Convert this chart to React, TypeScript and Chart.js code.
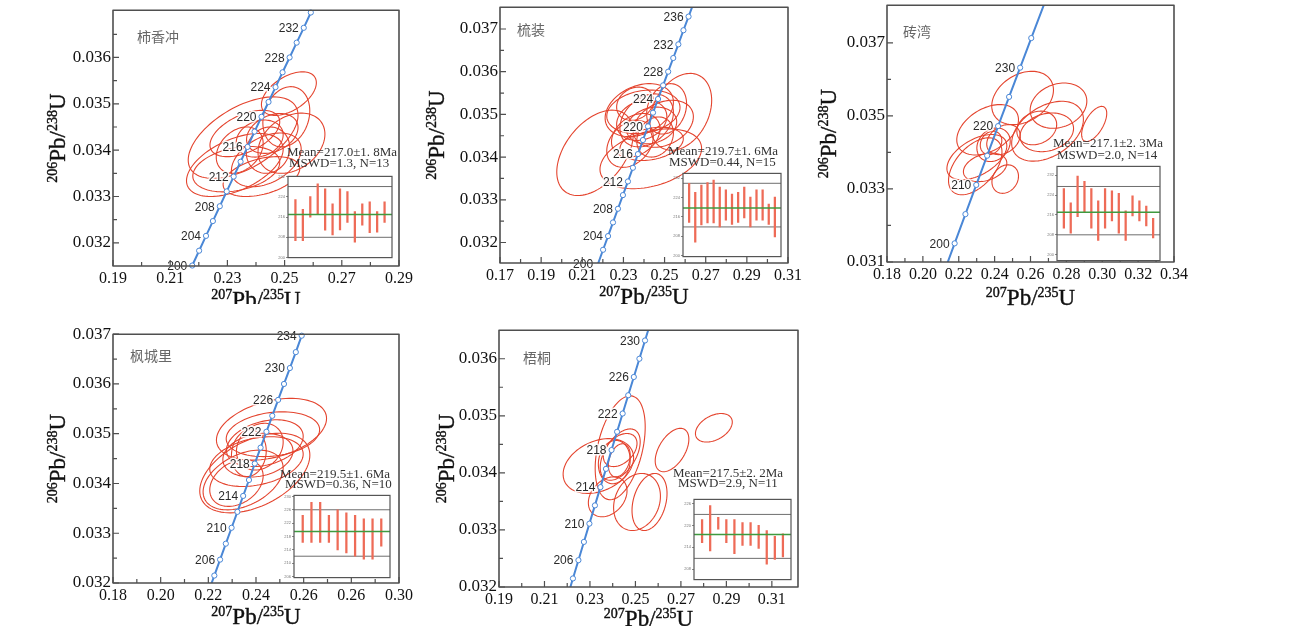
import { useEffect, useRef } from "react";
import { Chart, registerables } from "chart.js";

Chart.register(...registerables);

const RED = "#e4442e";
const BAR_RED = "#ee6b57";
const BLUE = "#4a87d6";
const FRAME = "#4f4f4f";
const SERIF = '"Liberation Serif", "Times New Roman", serif';
const SANS = '"Liberation Sans", Arial, sans-serif';
const CJK = '"Noto Sans CJK SC", sans-serif';

// Concordia reference points: age (Ma), 207Pb/235U, 206Pb/238U
const concAges = [195, 200, 202, 204, 205, 206, 208, 210, 212, 214, 215, 216, 218, 220, 222, 224, 225, 226, 228, 230, 232, 234, 235, 236, 238, 240, 245];
const concX = [0.21173, 0.21771, 0.22011, 0.22252, 0.22372, 0.22493, 0.22734, 0.22976, 0.23219, 0.23461, 0.23583, 0.23705, 0.23949, 0.24193, 0.24438, 0.24683, 0.24806, 0.24929, 0.25175, 0.25422, 0.2567, 0.25917, 0.26042, 0.26166, 0.26414, 0.26664, 0.27289];
const concY = [0.03071, 0.03151, 0.03183, 0.03215, 0.03231, 0.03247, 0.03279, 0.03311, 0.03343, 0.03375, 0.03391, 0.03407, 0.0344, 0.03472, 0.03504, 0.03536, 0.03552, 0.03568, 0.036, 0.03632, 0.03664, 0.03697, 0.03713, 0.03729, 0.03761, 0.03793, 0.03874];

// ---------- 柿香冲 ----------
const name1 = "柿香冲";
const xTicks1 = [0.19, 0.21, 0.23, 0.25, 0.27, 0.29];
const xLabels1 = ["0.19", "0.21", "0.23", "0.25", "0.27", "0.29"];
const xMinor1 = [0.2, 0.22, 0.24, 0.26, 0.28];
const yTicks1 = [0.032, 0.033, 0.034, 0.035, 0.036];
const yLabels1 = ["0.032", "0.033", "0.034", "0.035", "0.036"];
const yMinor1 = [0.0325, 0.0335, 0.0345, 0.0355, 0.0365];
const ages1 = [200, 202, 204, 206, 208, 210, 212, 214, 216, 218, 220, 222, 224, 226, 228, 230, 232, 234, 236];
const ageLabels1 = [200, 204, 208, 212, 216, 220, 224, 228, 232];
// error ellipses: [207/235, 206/238, ±x, ±y, rho]
const ellipses1 = [
  [0.2515, 0.03522, 0.0096, 0.00047, 0.5],
  [0.2355, 0.03427, 0.0192, 0.00088, 0.55],
  [0.2524, 0.03415, 0.0117, 0.00065, 0.3],
  [0.2326, 0.03368, 0.0169, 0.00068, 0.5],
  [0.2331, 0.03359, 0.0152, 0.00049, 0.3],
  [0.2419, 0.03343, 0.0134, 0.00043, 0.4],
  [0.2413, 0.03425, 0.0082, 0.0004, 0.2],
  [0.2442, 0.034, 0.0076, 0.0005, 0.1],
  [0.2506, 0.03472, 0.0082, 0.00065, 0.2],
  [0.2361, 0.03436, 0.0122, 0.0005, 0.5],
  [0.2436, 0.03379, 0.0122, 0.00058, 0.4],
  [0.2457, 0.03436, 0.009, 0.00043, 0.3],
  [0.2343, 0.034, 0.0082, 0.0005, 0.3],
];
const spots1 = [[206.7, 222.9], [206.7, 219.0], [215.9, 224.0], [217.1, 229.1], [210.8, 227.1], [208.9, 221.2], [210.9, 227.1], [213.9, 226.0], [206.1, 218.1], [212.8, 221.2], [209.8, 222.0], [210.0, 218.1], [213.9, 222.0]];
const spotTicks1 = [200, 208, 216, 224, 232];
const spotRef1 = [208, 228];
const mean1 = 217.0;

// ---------- 梳装 ----------
const name2 = "梳装";
const xTicks2 = [0.17, 0.19, 0.21, 0.23, 0.25, 0.27, 0.29, 0.31];
const xLabels2 = ["0.17", "0.19", "0.21", "0.23", "0.25", "0.27", "0.29", "0.31"];
const xMinor2 = [0.18, 0.2, 0.22, 0.24, 0.26, 0.28, 0.3];
const yTicks2 = [0.032, 0.033, 0.034, 0.035, 0.036, 0.037];
const yLabels2 = ["0.032", "0.033", "0.034", "0.035", "0.036", "0.037"];
const yMinor2 = [0.0325, 0.0335, 0.0345, 0.0355, 0.0365];
const ages2 = [200, 202, 204, 206, 208, 210, 212, 214, 216, 218, 220, 222, 224, 226, 228, 230, 232, 234, 236, 238];
const ageLabels2 = [200, 204, 208, 212, 216, 220, 224, 228, 232, 236];
const ellipses2 = [
  [0.2162, 0.0341, 0.0186, 0.001, 0.45],
  [0.2433, 0.03396, 0.0247, 0.0007, 0.35],
  [0.2579, 0.03506, 0.015, 0.0009, 0.3],
  [0.2377, 0.0351, 0.0166, 0.00062, 0.3],
  [0.2397, 0.03506, 0.0178, 0.00051, 0.2],
  [0.2389, 0.03486, 0.0122, 0.00047, 0.2],
  [0.2413, 0.03486, 0.013, 0.00062, 0.3],
  [0.236, 0.03451, 0.0118, 0.00051, 0.3],
  [0.2437, 0.03474, 0.0122, 0.00043, 0.2],
  [0.2494, 0.03478, 0.0146, 0.00055, 0.3],
  [0.2332, 0.03431, 0.0113, 0.00055, 0.3],
  [0.2437, 0.03431, 0.0154, 0.00039, 0.3],
  [0.251, 0.03513, 0.0097, 0.00059, 0.2],
  [0.2356, 0.03525, 0.0089, 0.00039, 0.2],
  [0.2454, 0.03447, 0.0089, 0.00047, 0.2],
];
const spots2 = [[213.7, 229.9], [205.5, 226.1], [212.6, 229.2], [213.5, 230.2], [213.5, 231.2], [211.8, 228.3], [214.6, 227.2], [212.8, 225.4], [213.7, 226.2], [215.5, 228.3], [211.8, 224.2], [214.6, 227.2], [214.6, 227.2], [212.8, 221.3], [207.7, 224.2]];
const spotTicks2 = [200, 208, 216, 224, 232];
const spotRef2 = [211.8, 229.9];
const mean2 = 219.7;

// ---------- 砖湾 ----------
const name3 = "砖湾";
const xTicks3 = [0.18, 0.2, 0.22, 0.24, 0.26, 0.28, 0.3, 0.32, 0.34];
const xLabels3 = ["0.18", "0.20", "0.22", "0.24", "0.26", "0.28", "0.30", "0.32", "0.34"];
const xMinor3 = [0.19, 0.21, 0.23, 0.25, 0.27, 0.29, 0.31, 0.33];
const yTicks3 = [0.031, 0.033, 0.035, 0.037];
const yLabels3 = ["0.031", "0.033", "0.035", "0.037"];
const yMinor3 = [0.032, 0.034, 0.036];
const ages3 = [195, 200, 205, 210, 215, 220, 225, 230, 235, 245];
const ageLabels3 = [200, 210, 220, 230];
const ellipses3 = [
  [0.2556, 0.03549, 0.0172, 0.00073, 0.3],
  [0.2756, 0.03528, 0.0158, 0.00062, 0.2],
  [0.2955, 0.03478, 0.007, 0.00048, 0.6],
  [0.2695, 0.03458, 0.02, 0.00082, 0.4],
  [0.2691, 0.03455, 0.0149, 0.00053, 0.2],
  [0.2361, 0.03462, 0.0172, 0.00069, 0.4],
  [0.2301, 0.03387, 0.0167, 0.00062, 0.5],
  [0.2292, 0.03362, 0.0149, 0.00078, 0.5],
  [0.2347, 0.03359, 0.0121, 0.00039, 0.3],
  [0.2459, 0.03327, 0.0074, 0.00039, 0.2],
  [0.2394, 0.03421, 0.0093, 0.00046, 0.2],
  [0.238, 0.03426, 0.006, 0.00032, 0.2],
  [0.2449, 0.03435, 0.0093, 0.00041, 0.3],
  [0.2635, 0.03467, 0.0111, 0.00046, 0.2],
];
const spots3 = [[210.7, 226.7], [208.7, 220.9], [215.3, 231.7], [217.3, 229.6], [210.7, 226.7], [205.7, 221.7], [210.7, 226.7], [213.6, 225.7], [208.7, 224.7], [205.7, 217.7], [215.6, 223.7], [213.6, 221.7], [211.6, 219.6], [206.7, 214.7]];
const spotTicks3 = [200, 208, 216, 224, 232];
const spotRef3 = [208, 227.5];
const mean3 = 217.1;

// ---------- 枫城里 ----------
const name4 = "枫城里";
const xTicks4 = [0.18, 0.2, 0.22, 0.24, 0.26, 0.28, 0.3];
const xLabels4 = ["0.18", "0.20", "0.22", "0.24", "0.26", "0.26", "0.30"];
const xMinor4 = [0.19, 0.21, 0.23, 0.25, 0.27, 0.29];
const yTicks4 = [0.032, 0.033, 0.034, 0.035, 0.036, 0.037];
const yLabels4 = ["0.032", "0.033", "0.034", "0.035", "0.036", "0.037"];
const yMinor4 = [0.0325, 0.0335, 0.0345, 0.0355, 0.0365];
const ages4 = [202, 204, 206, 208, 210, 212, 214, 216, 218, 220, 222, 224, 226, 228, 230, 232, 234, 236];
const ageLabels4 = [206, 210, 214, 218, 222, 226, 230, 234];
const ellipses4 = [
  [0.2465, 0.03509, 0.0231, 0.00062, 0.35],
  [0.2471, 0.03499, 0.0196, 0.00045, 0.2],
  [0.2395, 0.03421, 0.0231, 0.0008, 0.45],
  [0.2346, 0.03407, 0.0168, 0.0006, 0.4],
  [0.2408, 0.03457, 0.0147, 0.00044, 0.2],
  [0.237, 0.03461, 0.0073, 0.00047, 0.1],
  [0.2402, 0.03444, 0.0196, 0.0005, 0.3],
  [0.2416, 0.03474, 0.0098, 0.00047, 0.2],
  [0.2318, 0.03401, 0.0112, 0.00047, 0.3],
  [0.2437, 0.03481, 0.0161, 0.00047, 0.3],
];
const spots4 = [[216.2, 224.3], [216.2, 228.2], [216.2, 228.2], [216.2, 224.3], [214.0, 226.0], [213.1, 225.1], [212.1, 224.3], [211.2, 223.3], [211.2, 223.3], [215.1, 223.3]];
const spotTicks4 = [206, 210, 214, 218, 222, 226, 230];
const spotRef4 = [212.1, 226];
const mean4 = 219.5;

// ---------- 梧桐 ----------
const name5 = "梧桐";
const xTicks5 = [0.19, 0.21, 0.23, 0.25, 0.27, 0.29, 0.31];
const xLabels5 = ["0.19", "0.21", "0.23", "0.25", "0.27", "0.29", "0.31"];
const xMinor5 = [0.2, 0.22, 0.24, 0.26, 0.28, 0.3];
const yTicks5 = [0.032, 0.033, 0.034, 0.035, 0.036];
const yLabels5 = ["0.032", "0.033", "0.034", "0.035", "0.036"];
const yMinor5 = [0.0325, 0.0335, 0.0345, 0.0355];
const ages5 = [202, 204, 206, 208, 210, 212, 214, 216, 218, 220, 222, 224, 226, 228, 230, 232];
const ageLabels5 = [206, 210, 214, 218, 222, 226, 230];
const ellipses5 = [
  [0.2433, 0.03444, 0.011, 0.00091, 0.4],
  [0.2337, 0.03412, 0.0155, 0.00048, 0.3],
  [0.2378, 0.03358, 0.0085, 0.00035, 0.3],
  [0.2433, 0.03432, 0.0088, 0.00045, 0.5],
  [0.2429, 0.03422, 0.0048, 0.00029, 0.3],
  [0.2407, 0.03419, 0.007, 0.00038, 0.1],
  [0.2507, 0.03349, 0.0103, 0.0005, 0.2],
  [0.2562, 0.03349, 0.0077, 0.0005, 0.3],
  [0.2661, 0.0344, 0.0074, 0.00038, 0.5],
  [0.2845, 0.03479, 0.0081, 0.00025, 0.4],
  [0.2433, 0.0344, 0.0074, 0.00029, 0.4],
];
const spots5 = [[215.3, 221.6], [213.0, 225.4], [219.0, 222.2], [215.3, 221.6], [212.3, 221.6], [214.5, 220.8], [214.5, 220.8], [213.7, 220.0], [209.4, 218.6], [210.7, 217.0], [211.4, 217.7]];
const spotTicks5 = [208, 214, 220, 226];
const spotRef5 = [211.0, 223.0];
const mean5 = 217.5;

type Inset = { box: number[]; yr: number[]; ticks: number[]; spots: number[][]; ref: number[]; mean: number };
type Spec = {
  name: string;
  box: number[];
  xr: number[];
  yr: number[];
  xTicks: number[];
  xLabels: string[];
  xMinor: number[];
  yTicks: number[];
  yLabels: string[];
  yMinor: number[];
  ages: number[];
  ageLabels: number[];
  ellipses: number[][];
  namePos: number[];
  meanText: string;
  mswdText: string;
  meanPos: number[];
  mswdPos: number[];
  yTitleX: number;
  xTitleY: number;
  clip: number;
  inset: Inset;
};

const panels: Spec[] = [
  {
    name: name1, box: [113, 10, 399, 266], xr: [0.19, 0.29], yr: [0.0315, 0.03702],
    xTicks: xTicks1, xLabels: xLabels1, xMinor: xMinor1, yTicks: yTicks1, yLabels: yLabels1, yMinor: yMinor1,
    ages: ages1, ageLabels: ageLabels1, ellipses: ellipses1, namePos: [137, 37],
    meanText: "Mean=217.0±1. 8Ma", mswdText: "MSWD=1.3, N=13", meanPos: [287, 153], mswdPos: [289, 164],
    yTitleX: 58, xTitleY: 300, clip: 304,
    inset: { box: [288, 176, 392, 258], yr: [200, 232], ticks: spotTicks1, spots: spots1, ref: spotRef1, mean: mean1 },
  },
  {
    name: name2, box: [500, 7, 788, 263], xr: [0.17, 0.31], yr: [0.03152, 0.03751],
    xTicks: xTicks2, xLabels: xLabels2, xMinor: xMinor2, yTicks: yTicks2, yLabels: yLabels2, yMinor: yMinor2,
    ages: ages2, ageLabels: ageLabels2, ellipses: ellipses2, namePos: [517, 30],
    meanText: "Mean=219.7±1. 6Ma", mswdText: "MSWD=0.44, N=15", meanPos: [668, 152], mswdPos: [669, 162.5],
    yTitleX: 437, xTitleY: 297, clip: 304,
    inset: { box: [683, 173, 781, 257], yr: [199.5, 234], ticks: spotTicks2, spots: spots2, ref: spotRef2, mean: mean2 },
  },
  {
    name: name3, box: [887, 5, 1174, 262], xr: [0.18, 0.34], yr: [0.031, 0.03803],
    xTicks: xTicks3, xLabels: xLabels3, xMinor: xMinor3, yTicks: yTicks3, yLabels: yLabels3, yMinor: yMinor3,
    ages: ages3, ageLabels: ageLabels3, ellipses: ellipses3, namePos: [903, 32],
    meanText: "Mean=217.1±2. 3Ma", mswdText: "MSWD=2.0, N=14", meanPos: [1053, 144], mswdPos: [1057, 155.7],
    yTitleX: 829, xTitleY: 298, clip: 626,
    inset: { box: [1057, 166, 1160, 261], yr: [197.6, 235.6], ticks: spotTicks3, spots: spots3, ref: spotRef3, mean: mean3 },
  },
  {
    name: name4, box: [113, 334, 399, 583], xr: [0.18, 0.3], yr: [0.032, 0.037],
    xTicks: xTicks4, xLabels: xLabels4, xMinor: xMinor4, yTicks: yTicks4, yLabels: yLabels4, yMinor: yMinor4,
    ages: ages4, ageLabels: ageLabels4, ellipses: ellipses4, namePos: [130, 356],
    meanText: "Mean=219.5±1. 6Ma", mswdText: "MSWD=0.36, N=10", meanPos: [280, 474.3], mswdPos: [285, 485],
    yTitleX: 58, xTitleY: 617, clip: 626,
    inset: { box: [294, 495, 390, 578], yr: [205.7, 230.3], ticks: spotTicks4, spots: spots4, ref: spotRef4, mean: mean4 },
  },
  {
    name: name5, box: [499, 330, 798, 587], xr: [0.19, 0.3215], yr: [0.032, 0.0365],
    xTicks: xTicks5, xLabels: xLabels5, xMinor: xMinor5, yTicks: yTicks5, yLabels: yLabels5, yMinor: yMinor5,
    ages: ages5, ageLabels: ageLabels5, ellipses: ellipses5, namePos: [523, 358],
    meanText: "Mean=217.5±2. 2Ma", mswdText: "MSWD=2.9, N=11", meanPos: [673, 473.3], mswdPos: [678, 484],
    yTitleX: 447, xTitleY: 619, clip: 626,
    inset: { box: [694, 499, 791, 580], yr: [205.2, 227.1], ticks: spotTicks5, spots: spots5, ref: spotRef5, mean: mean5 },
  },
];

const PAD_L = 90;
const PAD_T = 12;
const PAD_R = 18;
const PAD_B = 45;

function drawRatioTitle(ctx: CanvasRenderingContext2D, cx: number, cy: number, parts: string[], rotate: boolean) {
  const big = `23px ${SERIF}`;
  const small = `14px ${SERIF}`;
  const runs: [string, string, number][] = [
    [parts[0], small, -8],
    [parts[1], big, 0],
    ["/", big, 0],
    [parts[2], small, -8],
    [parts[3], big, 0],
  ];
  ctx.save();
  ctx.translate(cx, cy);
  if (rotate) ctx.rotate(-Math.PI / 2);
  let total = 0;
  for (const [t, f] of runs) {
    ctx.font = f;
    total += ctx.measureText(t).width;
  }
  let x = -total / 2;
  ctx.fillStyle = "#111";
  ctx.strokeStyle = "#111";
  ctx.lineWidth = 0.4;
  ctx.textAlign = "left";
  ctx.textBaseline = "alphabetic";
  for (const [t, f, dy] of runs) {
    ctx.font = f;
    ctx.fillText(t, x, 7 + dy);
    ctx.strokeText(t, x, 7 + dy);
    x += ctx.measureText(t).width;
  }
  ctx.restore();
}

function decor(s: Spec) {
  const ox = s.box[0] - PAD_L;
  const oy = s.box[1] - PAD_T;
  return {
    id: "concordiaDecor",
    beforeDatasetsDraw(chart: any) {
      const { ctx, chartArea: a } = chart;
      const xs = chart.scales.x;
      const ys = chart.scales.y;
      ctx.save();
      ctx.beginPath();
      ctx.rect(a.left, a.top, a.right - a.left, a.bottom - a.top);
      ctx.clip();
      ctx.strokeStyle = RED;
      ctx.lineWidth = 1.1;
      for (const e of s.ellipses) {
        const [cx, cy, sx, sy, rho] = e;
        const k = Math.sqrt(1 - rho * rho);
        ctx.beginPath();
        for (let i = 0; i <= 96; i++) {
          const t = (i / 96) * Math.PI * 2;
          const px = xs.getPixelForValue(cx + sx * Math.cos(t));
          const py = ys.getPixelForValue(cy + sy * (rho * Math.cos(t) + k * Math.sin(t)));
          if (i === 0) ctx.moveTo(px, py);
          else ctx.lineTo(px, py);
        }
        ctx.closePath();
        ctx.stroke();
      }
      ctx.restore();
    },
    afterDatasetsDraw(chart: any) {
      const { ctx, chartArea: a } = chart;
      const xs = chart.scales.x;
      const ys = chart.scales.y;
      ctx.save();

      // age labels beside the concordia
      ctx.font = `12px ${SANS}`;
      ctx.textAlign = "right";
      ctx.textBaseline = "middle";
      ctx.lineJoin = "round";
      for (const age of s.ageLabels) {
        const i = concAges.indexOf(age);
        const px = xs.getPixelForValue(concX[i]);
        const py = ys.getPixelForValue(concY[i]);
        ctx.strokeStyle = "rgba(255,255,255,0.9)";
        ctx.lineWidth = 3;
        ctx.strokeText(String(age), px - 5, py + 1);
        ctx.fillStyle = "#2a2a2a";
        ctx.fillText(String(age), px - 5, py + 1);
      }

      // frame and inward ticks
      ctx.strokeStyle = FRAME;
      ctx.lineWidth = 1.6;
      ctx.strokeRect(a.left, a.top, a.right - a.left, a.bottom - a.top);
      ctx.lineWidth = 1.2;
      ctx.beginPath();
      const tick = (vals: number[], len: number) => {
        for (const v of vals) {
          const px = xs.getPixelForValue(v);
          ctx.moveTo(px, a.bottom);
          ctx.lineTo(px, a.bottom - len);
        }
      };
      const ytick = (vals: number[], len: number) => {
        for (const v of vals) {
          const py = ys.getPixelForValue(v);
          ctx.moveTo(a.left, py);
          ctx.lineTo(a.left + len, py);
        }
      };
      tick(s.xTicks, 6);
      tick(s.xMinor, 4);
      ytick(s.yTicks, 6);
      ytick(s.yMinor, 4);
      ctx.stroke();

      // sample name
      ctx.font = `14px ${CJK}`;
      ctx.fillStyle = "#676767";
      ctx.textAlign = "left";
      ctx.textBaseline = "middle";
      ctx.fillText(s.name, s.namePos[0] - ox, s.namePos[1] - oy);

      // weighted mean summary
      ctx.font = `13px ${SERIF}`;
      ctx.fillStyle = "#333";
      ctx.fillText(s.meanText, s.meanPos[0] - ox, s.meanPos[1] - oy);
      ctx.fillText(s.mswdText, s.mswdPos[0] - ox, s.mswdPos[1] - oy);

      // axis titles
      drawRatioTitle(ctx, (a.left + a.right) / 2, s.xTitleY - oy, ["207", "Pb", "235", "U"], false);
      drawRatioTitle(ctx, s.yTitleX - ox, (a.top + a.bottom) / 2, ["206", "Pb", "238", "U"], true);
      ctx.restore();
    },
  };
}

function mainConfig(s: Spec): any {
  const pts = s.ages.map((age) => {
    const i = concAges.indexOf(age);
    return { x: concX[i], y: concY[i] };
  });
  const marks = pts.filter(
    (p) => p.x >= s.xr[0] && p.x <= s.xr[1] && p.y >= s.yr[0] - 1e-6 && p.y <= s.yr[1] + 1e-6
  );
  return {
    type: "scatter",
    data: {
      datasets: [
        { type: "line", data: pts, borderColor: BLUE, borderWidth: 2, pointRadius: 0, fill: false, tension: 0, clip: 0, order: 2 },
        {
          type: "scatter", data: marks, pointRadius: 2.6, pointBackgroundColor: "#ffffff",
          pointBorderColor: BLUE, pointBorderWidth: 1, clip: false, order: 1,
        },
      ],
    },
    options: {
      animation: false,
      responsive: false,
      maintainAspectRatio: false,
      events: [],
      layout: { padding: { left: 0, top: PAD_T, right: PAD_R, bottom: 0 } },
      plugins: { legend: { display: false }, tooltip: { enabled: false } },
      scales: {
        x: {
          type: "linear", min: s.xr[0], max: s.xr[1],
          grid: { display: false, drawTicks: false, tickLength: 0 }, border: { display: false },
          afterBuildTicks: (sc: any) => { sc.ticks = s.xTicks.map((v) => ({ value: v })); },
          afterFit: (sc: any) => { sc.height = PAD_B; },
          ticks: {
            autoSkip: false, maxRotation: 0, padding: 3, color: "#111",
            font: { family: SERIF, size: 16 },
            callback: (_v: any, i: number) => s.xLabels[i] ?? "",
          },
        },
        y: {
          type: "linear", min: s.yr[0], max: s.yr[1],
          grid: { display: false, drawTicks: false, tickLength: 0 }, border: { display: false },
          afterBuildTicks: (sc: any) => { sc.ticks = s.yTicks.map((v) => ({ value: v })); },
          afterFit: (sc: any) => { sc.width = PAD_L; },
          ticks: {
            autoSkip: false, padding: 2, color: "#111",
            font: { family: SERIF, size: 17 },
            callback: (_v: any, i: number) => s.yLabels[i] ?? "",
          },
        },
      },
    },
    plugins: [decor(s)],
  };
}

function insetConfig(s: Spec): any {
  const ins = s.inset;
  const n = ins.spots.length;
  const lines = {
    id: "spotLines",
    beforeDatasetsDraw(chart: any) {
      const { ctx, chartArea: a } = chart;
      const ys = chart.scales.y;
      ctx.save();
      ctx.fillStyle = "#ffffff";
      ctx.fillRect(a.left, a.top, a.right - a.left, a.bottom - a.top);
      ctx.strokeStyle = "#6e6e6e";
      ctx.lineWidth = 1;
      ctx.beginPath();
      for (const r of ins.ref) {
        const py = ys.getPixelForValue(r);
        ctx.moveTo(a.left, py);
        ctx.lineTo(a.right, py);
      }
      ctx.stroke();
      ctx.restore();
    },
    afterDatasetsDraw(chart: any) {
      const { ctx, chartArea: a } = chart;
      const ys = chart.scales.y;
      ctx.save();
      ctx.strokeStyle = "#3f9a3f";
      ctx.lineWidth = 1.5;
      ctx.beginPath();
      const py = ys.getPixelForValue(ins.mean);
      ctx.moveTo(a.left, py);
      ctx.lineTo(a.right, py);
      ctx.stroke();
      ctx.strokeStyle = "#555";
      ctx.lineWidth = 1.2;
      ctx.strokeRect(a.left, a.top, a.right - a.left, a.bottom - a.top);
      ctx.restore();
    },
  };
  return {
    type: "bar",
    data: {
      datasets: [
        {
          data: ins.spots.map((b, i) => ({ x: i + 1, y: b })),
          backgroundColor: BAR_RED, borderWidth: 0, barThickness: 1.6,
        },
      ],
    },
    options: {
      animation: false,
      responsive: false,
      maintainAspectRatio: false,
      events: [],
      layout: { padding: { left: 0, top: 3, right: 3, bottom: 3 } },
      plugins: { legend: { display: false }, tooltip: { enabled: false } },
      scales: {
        x: { type: "linear", min: 0, max: n + 1, display: false, offset: false, grid: { offset: false } },
        y: {
          type: "linear", min: ins.yr[0], max: ins.yr[1],
          grid: { display: true, drawOnChartArea: false, tickLength: 2, color: "#888" },
          border: { display: false },
          afterBuildTicks: (sc: any) => { sc.ticks = ins.ticks.map((v) => ({ value: v })); },
          afterFit: (sc: any) => { sc.width = 14; },
          ticks: { autoSkip: false, padding: 1, color: "#777", font: { family: SANS, size: 4 } },
        },
      },
    },
    plugins: [lines],
  };
}

function Panel({ s }: { s: Spec }) {
  const mainRef = useRef<HTMLCanvasElement>(null);
  const insetRef = useRef<HTMLCanvasElement>(null);
  const [L, T, R, B] = s.box;
  const W = R - L + PAD_L + PAD_R;
  const H = B - T + PAD_T + PAD_B;
  const [iL, iT, iR, iB] = s.inset.box;
  const IW = iR - iL + 17;
  const IH = iB - iT + 6;

  useEffect(() => {
    const main = new Chart(mainRef.current as HTMLCanvasElement, mainConfig(s));
    const inset = new Chart(insetRef.current as HTMLCanvasElement, insetConfig(s));
    return () => {
      main.destroy();
      inset.destroy();
    };
  }, [s]);

  return (
    <div style={{ position: "absolute", left: 0, top: 0, width: 1294, height: s.clip, overflow: "hidden" }}>
      <canvas
        ref={mainRef}
        width={W}
        height={H}
        style={{ position: "absolute", left: L - PAD_L, top: T - PAD_T, width: W, height: H }}
      />
      <canvas
        ref={insetRef}
        width={IW}
        height={IH}
        style={{ position: "absolute", left: iL - 14, top: iT - 3, width: IW, height: IH }}
      />
    </div>
  );
}

export default function App() {
  return (
    <div
      style={{
        position: "absolute", left: 0, top: 0, width: 1294, height: 626,
        overflow: "hidden", background: "#ffffff",
      }}
    >
      {panels.map((p) => (
        <Panel key={p.name} s={p} />
      ))}
    </div>
  );
}
